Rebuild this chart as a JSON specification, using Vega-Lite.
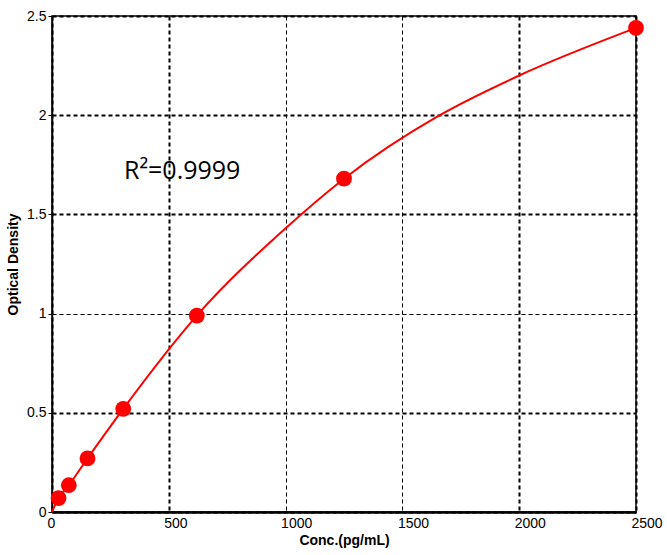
{
  "$schema": "https://vega.github.io/schema/vega-lite/v6.json",
  "width": 584,
  "height": 496,
  "autosize": "none",
  "padding": {"left": 52, "top": 16, "right": 31, "bottom": 43},
  "background": "white",
  "config": {
    "view": {"stroke": "black", "strokeWidth": 1.5},
    "axis": {
      "labelFont": "Liberation Sans",
      "labelFontSize": 14,
      "labelColor": "black",
      "titleFont": "Liberation Sans",
      "titleFontSize": 14,
      "titleFontWeight": "bold",
      "titleColor": "black",
      "domainColor": "black",
      "tickColor": "black",
      "gridColor": "black",
      "gridDash": [4, 3],
      "gridOpacity": 1
    }
  },
  "datasets": {
    "points": [
      {"conc": 28, "od": 0.07},
      {"conc": 72, "od": 0.135},
      {"conc": 152, "od": 0.27},
      {"conc": 305, "od": 0.52},
      {"conc": 620, "od": 0.99},
      {"conc": 1250, "od": 1.68},
      {"conc": 2500, "od": 2.44}
    ],
    "curve": [
      {"conc": 0, "od": 0.0},
      {"conc": 28, "od": 0.07},
      {"conc": 72, "od": 0.135},
      {"conc": 152, "od": 0.27},
      {"conc": 305, "od": 0.52},
      {"conc": 620, "od": 0.99},
      {"conc": 1000, "od": 1.43},
      {"conc": 1250, "od": 1.68},
      {"conc": 1660, "od": 2.0},
      {"conc": 2000, "od": 2.2},
      {"conc": 2500, "od": 2.44}
    ]
  },
  "layer": [
    {
      "data": {"name": "curve"},
      "mark": {"type": "line", "color": "#ff0000", "strokeWidth": 2, "interpolate": "monotone"},
      "encoding": {
        "x": {
          "field": "conc", "type": "quantitative",
          "scale": {"domain": [0, 2500], "nice": false},
          "title": "Conc.(pg/mL)",
          "axis": {
            "values": [0, 500, 1000, 1500, 2000, 2500],
            "format": "d",
            "grid": true,
            "gridWidth": {"condition": {"test": "datum.value == 1000 || datum.value == 1500", "value": 1}, "value": 2},
            "domainWidth": 2.5,
            "tickSize": 0,
            "labelAlign": "left",
            "labelOffset": -5,
            "labelPadding": 4,
            "labelFlush": false,
            "titlePadding": 3
          }
        },
        "y": {
          "field": "od", "type": "quantitative",
          "scale": {"domain": [0, 2.5], "nice": false},
          "title": "Optical Density",
          "axis": {
            "values": [0, 0.5, 1, 1.5, 2, 2.5],
            "format": "~g",
            "grid": true,
            "gridWidth": {"condition": {"test": "datum.value == 1", "value": 1}, "value": 2},
            "domainWidth": 1.5,
            "tickSize": 4,
            "labelPadding": 2,
            "labelFlush": false,
            "titlePadding": 6
          }
        }
      }
    },
    {
      "data": {"name": "points"},
      "mark": {"type": "point", "shape": "circle", "filled": true, "color": "#ff0000", "size": 250, "opacity": 1},
      "encoding": {
        "x": {"field": "conc", "type": "quantitative"},
        "y": {"field": "od", "type": "quantitative"}
      }
    },
    {
      "data": {"values": [{"label": "R²=0.9999"}]},
      "mark": {"type": "text", "font": "Open Sans", "fontSize": 25, "align": "left", "baseline": "middle", "color": "black"},
      "encoding": {
        "text": {"field": "label"},
        "x": {"datum": 308},
        "y": {"datum": 1.72}
      }
    }
  ]
}
